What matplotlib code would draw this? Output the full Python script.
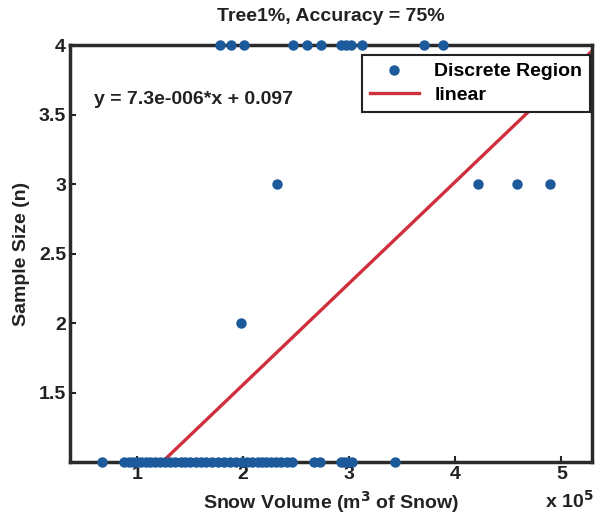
import matplotlib
matplotlib.use("Agg")
import matplotlib.pyplot as plt
import numpy as np

plt.rcParams['font.family'] = ['Liberation Sans', 'DejaVu Sans']
plt.rcParams['font.weight'] = 'bold'

# Snow volume (x 1e5 m^3) for each sample-size level
x_n1 = [0.67, 0.88, 0.92, 0.96, 1.0, 1.04, 1.08, 1.12, 1.17, 1.22, 1.26, 1.31, 1.36,
        1.41, 1.45, 1.50, 1.56, 1.60, 1.65, 1.71, 1.76, 1.82, 1.88, 1.93, 1.99, 2.04,
        2.08, 2.14, 2.18, 2.22, 2.26, 2.31, 2.36, 2.41, 2.46, 2.67, 2.72, 2.92, 2.95,
        2.99, 3.03, 3.43]
x_n2 = [1.98]
x_n3 = [2.32, 4.21, 4.58, 4.89]
x_n4 = [1.78, 1.89, 2.01, 2.47, 2.60, 2.73, 2.92, 2.97, 3.02, 3.12, 3.70, 3.88]

slope = 7.3e-6
intercept = 0.097
xlim = (0.37e5, 5.29e5)
title = "Tree1%, Accuracy = 75%"
eq_text = "y = 7.3e-006*x + 0.097"

xs = np.array(x_n1 + x_n2 + x_n3 + x_n4) * 1e5
ys = np.array([1] * len(x_n1) + [2] * len(x_n2) + [3] * len(x_n3) + [4] * len(x_n4))

fig = plt.figure(figsize=(6.0, 5.18), dpi=100)
ax = fig.add_axes([0.117, 0.108, 0.870, 0.805])

blue = '#1d5a9c'
red = '#d0303e'
fs = 14
ax.plot(xs, ys, 'o', color=blue, markersize=6.5, label='Discrete Region', clip_on=False, zorder=3)
lx = np.array(xlim)
ax.plot(lx, slope * lx + intercept, '-', color=red, linewidth=2.4, label='linear', zorder=2)

ax.set_xlim(*xlim)
ax.set_ylim(1, 4)
ax.set_xticks([1e5, 2e5, 3e5, 4e5, 5e5])
ax.set_xticklabels(['1', '2', '3', '4', '5'])
ax.set_yticks([1.5, 2, 2.5, 3, 3.5, 4])
ax.set_yticklabels(['1.5', '2', '2.5', '3', '3.5', '4'])
ax.tick_params(direction='in', length=4, width=1.5, labelsize=fs, colors='#222222', pad=3)
for s in ax.spines.values():
    s.set_linewidth(2.5)
    s.set_color('#2a2a2a')

ax.set_title(title, fontsize=fs, fontweight='bold', color='#222222', pad=17)
ax.set_xlabel('Snow Volume (m$^3$ of Snow)', fontsize=fs, fontweight='bold', color='#222222', labelpad=4)
ax.set_ylabel('Sample Size (n)', fontsize=fs, fontweight='bold', color='#222222', labelpad=6)
fig.text(0.99, 0.012, 'x 10$^5$', fontsize=fs, fontweight='bold', ha='right', va='bottom', color='#222222')
ax.text(0.046, 0.87, eq_text, transform=ax.transAxes, fontsize=fs, fontweight='bold', color='#222222',
        va='center', ha='left')

leg = ax.legend(loc='upper right', bbox_to_anchor=(0.996, 0.976), fontsize=fs, frameon=True,
                fancybox=False, borderaxespad=0.0, handlelength=2.5, borderpad=0.4,
                labelspacing=0.3, handletextpad=0.8, framealpha=1)
leg.get_frame().set_edgecolor('#222222')
leg.get_frame().set_linewidth(1.5)
leg.set_zorder(5)

fig.savefig('out.png', dpi=100)
